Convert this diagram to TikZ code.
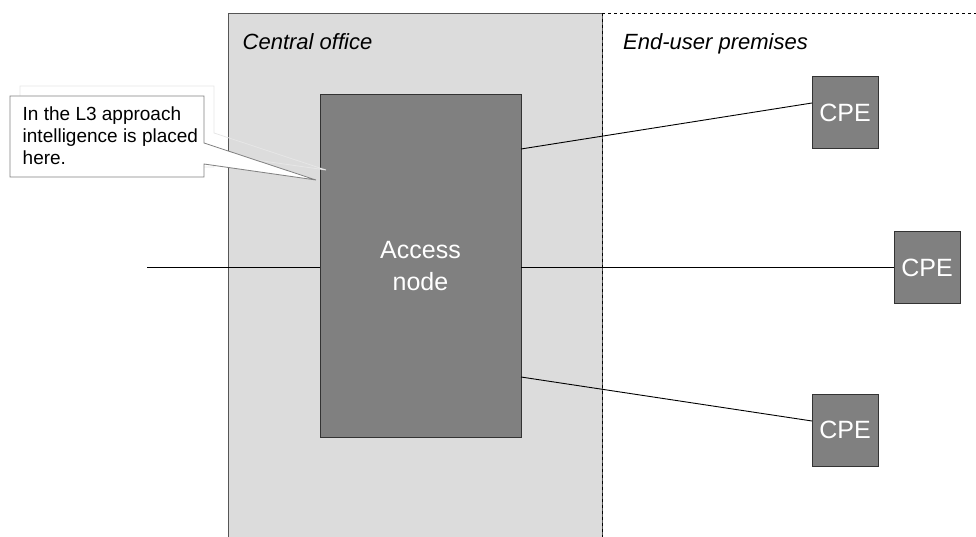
\documentclass[tikz,border=0pt]{standalone}
\usepackage{fontspec}
\setmainfont{Liberation Sans}
\definecolor{regiongray}{HTML}{DCDCDC}
\definecolor{boxgray}{HTML}{808080}
\definecolor{edgegray}{HTML}{333333}
\definecolor{coedge}{HTML}{555555}
\definecolor{shadowgray}{HTML}{E6E6E6}
\begin{document}
\begin{tikzpicture}[x=1pt,y=-1pt,
  region/.style={fill=regiongray,draw=coedge,line width=1pt,minimum width=373.8pt,minimum height=532pt,inner sep=0pt,outer sep=0pt},
  access/.style={fill=boxgray,draw=edgegray,line width=1pt,minimum width=201pt,minimum height=342pt,inner sep=0pt,outer sep=0pt,align=center,text=white,font=\fontsize{25}{31.5}\selectfont},
  cpe/.style={fill=boxgray,draw=edgegray,line width=1pt,minimum width=66pt,minimum height=72pt,inner sep=0pt,outer sep=0pt,text=white,font=\fontsize{25}{30}\selectfont},
  link/.style={draw=black,line width=0.9pt},
  label/.style={inner sep=0pt,anchor=base west,font=\fontsize{22}{26}\selectfont\itshape},
  callout/.style={fill=white,draw=gray,line width=0.8pt},
  calloutshadow/.style={draw=shadowgray,line width=0.8pt}
]
\useasboundingbox (0,0) rectangle (976,537);
% central office region
\node[region,anchor=north west] (co) at (228.5,13.3) {};
\draw[dashed,line width=0.8pt] (co.north east) -- (co.south east);
\draw[dashed,line width=0.8pt] (co.north east) -- (976,13.3);
\node[label] (colabel) at (242.5,49.5) {Central office};
\node[label] (eulabel) at (623,50) {End-user premises};
% access node and CPEs
\node[access] (an) at (420.5,266) {\raisebox{-2pt}{\parbox{150pt}{\centering Access\\node}}};
\node[cpe] (cpe1) at (845,113) {CPE};
\node[cpe,minimum height=71pt] (cpe2) at (927,267.5) {CPE};
\node[cpe] (cpe3) at (845,430) {CPE};
\coordinate (net) at (147,267);
% connectors
\draw[link] (net) -- (an.west |- net);
\draw[link] ([yshift=117pt]an.east) -- ([yshift=10pt]cpe1.west);
\draw[link] (an.east |- net) -- (cpe2.west |- net);
\draw[link] ([yshift=-111pt]an.east) -- ([yshift=9pt]cpe3.west);
% callout
\coordinate (tip) at (316,180);
\draw[calloutshadow] (20,86) -- (214,86) -- (214,133) -- (326,170) -- (214,154) -- (214,167) -- (20,167) -- cycle;
\draw[callout] (10,96) -- (204,96) -- (204,143) -- (tip) -- (204,164) -- (204,177) -- (10,177) -- cycle;
\node[inner sep=0pt,anchor=north west,align=left,font=\fontsize{19}{22}\selectfont] (note) at (22.5,107) {In the L3 approach\\intelligence is placed\\here.};
\end{tikzpicture}
\end{document}
